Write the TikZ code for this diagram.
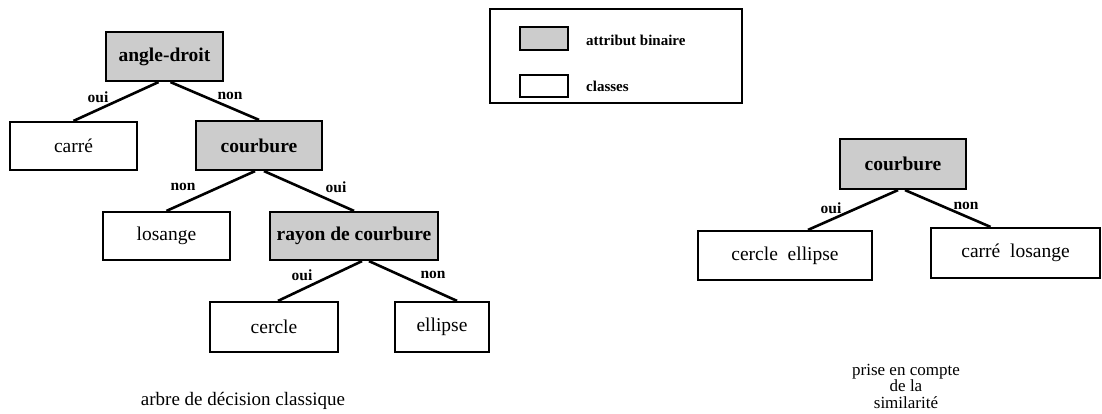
\documentclass[tikz,border=0pt]{standalone}
\usepackage{fontspec}
\setmainfont{Liberation Serif}
\begin{document}
\begin{tikzpicture}[x=1pt,y=-1pt,
  box/.style={draw=black, line width=2.2pt, inner sep=0pt, anchor=center,
    font=\fontsize{19.5}{22}\selectfont},
  attr/.style={box, fill=black!20, font=\bfseries\fontsize{19.5}{22}\selectfont},
  cls/.style={box, fill=white},
  edge/.style={line width=2.6pt},
  lab/.style={inner sep=0pt, font=\bfseries\fontsize{15.5}{17}\selectfont},
  legtext/.style={inner sep=0pt, anchor=west, font=\bfseries\fontsize{15}{17}\selectfont},
  caption/.style={inner sep=0pt, align=center, font=\fontsize{19}{16.5}\selectfont},
  captionsmall/.style={inner sep=0pt, align=center, font=\fontsize{17}{16.5}\selectfont}]
\useasboundingbox (0,0) rectangle (1102,414);

% classic decision tree
\node[attr, minimum width=117pt, minimum height=49pt] (ad)  at (164.5,56.5) {angle-droit};
\node[cls,  minimum width=127pt, minimum height=48pt] (ca)  at (73.5,146)   {carré};
\node[attr, minimum width=126pt, minimum height=49pt] (cb)  at (259,145.5)  {courbure};
\node[cls,  minimum width=127pt, minimum height=48pt] (lo)  at (166.5,236)  {losange};
\node[attr, minimum width=168pt, minimum height=48pt] (ra)  at (354,236)    {rayon de courbure};
\node[cls,  minimum width=128pt, minimum height=50pt] (ce)  at (274,327)    {cercle};
\node[cls,  minimum width=94pt,  minimum height=50pt] (el)  at (442,327)    {ellipse};

\draw[edge] ([xshift=-6pt]ad.south) -- (ca.north);
\draw[edge] ([xshift=6pt]ad.south)  -- (cb.north);
\draw[edge] ([xshift=-4pt]cb.south) -- (lo.north);
\draw[edge] ([xshift=5pt]cb.south)  -- (ra.north);
\draw[edge] ([xshift=8pt]ra.south)  -- ([xshift=4pt]ce.north);
\draw[edge] ([xshift=15pt]ra.south) -- ([xshift=15pt]el.north);

\node[lab] (l1) at (98,97)   {oui};
\node[lab] (l2) at (230,96)  {non};
\node[lab] (l3) at (183,187) {non};
\node[lab] (l4) at (336,187) {oui};
\node[lab] (l5) at (302,275) {oui};
\node[lab] (l6) at (433,275) {non};

\node[caption] (capL) at (243,401) {arbre de décision classique};

% legend
\node[draw, line width=1.3pt, minimum width=252pt, minimum height=94pt, inner sep=0pt] (leg) at (616,56) {};
\node[attr, line width=1.8pt, minimum width=48pt, minimum height=23pt] (k1) at (544,38.5) {};
\node[cls,  line width=1.8pt, minimum width=48pt, minimum height=22pt] (k2) at (544,86) {};
\node[legtext] (t1) at (586,40) {attribut binaire};
\node[legtext] (t2) at (586,86) {classes};

% tree taking similarity into account
\node[attr, minimum width=126pt, minimum height=50pt] (rc) at (903,164)    {courbure};
\node[cls,  minimum width=174pt, minimum height=49pt] (rl) at (785,255.5)  {cercle\ \ ellipse};
\node[cls,  minimum width=169pt, minimum height=50pt] (rr) at (1015.5,253) {carré\ \ losange};

\draw[edge] ([xshift=-5pt]rc.south) -- ([xshift=23pt]rl.north);
\draw[edge] ([xshift=2pt]rc.south)  -- ([xshift=-25pt]rr.north);

\node[lab] (l7) at (831,208) {oui};
\node[lab] (l8) at (966,206) {non};

\node[captionsmall] (capR) at (906,386) {prise en compte\\de la\\similarité};
\end{tikzpicture}
\end{document}
